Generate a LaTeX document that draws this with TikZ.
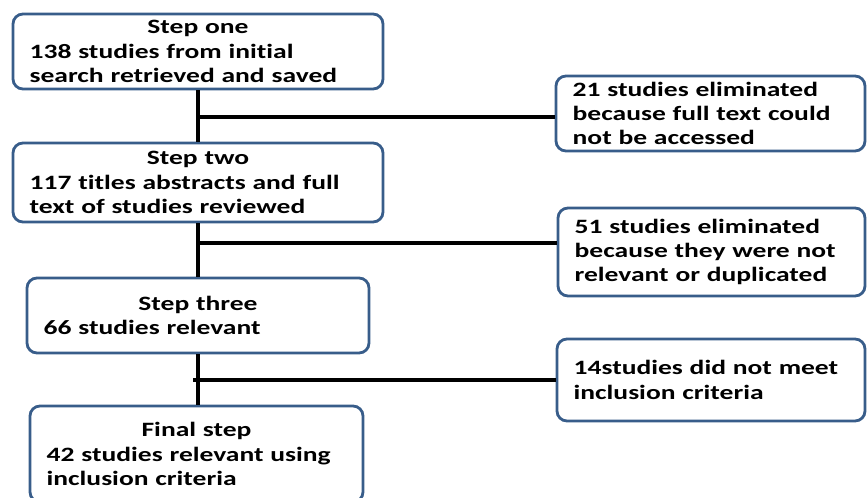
\documentclass[tikz,border=0pt]{standalone}
\usepackage{fontspec}
\newfontfamily\boxfont{Carlito}[FakeStretch=1.35, Ligatures=NoCommon]
\usepackage{tikz}
\usetikzlibrary{arrows.meta}

\definecolor{boxline}{HTML}{385D8A}
\newcommand{\stephead}[1]{\makebox[\linewidth]{#1}\\}

\tikzset{
  stepbox/.style={draw=boxline, line width=2.4pt, fill=white, rounded corners=0.3cm,
    inner xsep=0.5cm, inner ysep=0pt, align=left,
    font=\boxfont\bfseries\fontsize{17.4}{20.8}\selectfont},
  flow/.style={draw=black, line width=2.8pt}
}

\begin{document}
\begin{tikzpicture}[x=0.03cm, y=-0.03cm]
    \clip (0, 0) rectangle (867, 497);
    \node[stepbox, text width=10.1cm, minimum height=2.25cm] (one) at (198, 51.5)
      {\stephead{Step one}138 studies from initial\\search retrieved and saved};
    \node[stepbox, text width=10.1cm, minimum height=2.37cm] (two) at (198, 182.5)
      {\stephead{Step two}117 titles abstracts and full\\text of studies reviewed};
    \node[stepbox, text width=9.26cm, minimum height=2.25cm] (three) at (198, 315.5)
      {\stephead{Step three}66 studies relevant};
    \node[stepbox, text width=8.99cm, minimum height=2.88cm] (final) at (196.5, 454)
      {\stephead{Final step}42 studies relevant using\\inclusion criteria};
    \node[stepbox, text width=8.27cm, minimum height=2.25cm] (elimA) at (710.5, 113.5)
      {21 studies eliminated\\because full text could\\not be accessed};
    \node[stepbox, text width=8.21cm, minimum height=2.64cm] (elimB) at (711.5, 252)
      {51 studies eliminated\\because they were not\\relevant or duplicated};
    \node[stepbox, text width=8.24cm, minimum height=2.46cm] (elimC) at (711, 380)
      {14studies did not meet\\inclusion criteria};
    \coordinate (jA) at (198, 117);
    \coordinate (jB) at (198, 243);
    \coordinate (jC) at (193, 380);
    \draw[flow] (one.south) -- (two.north);
    \draw[flow] (two.south) -- (three.north);
    \draw[flow] (three.south) -- (three.south |- final.north);
    \draw[flow] (jA) -- (jA -| elimA.west);
    \draw[flow] (jB) -- (jB -| elimB.west);
    \draw[flow] (jC) -- (jC -| elimC.west);
  \end{tikzpicture}
\end{document}
